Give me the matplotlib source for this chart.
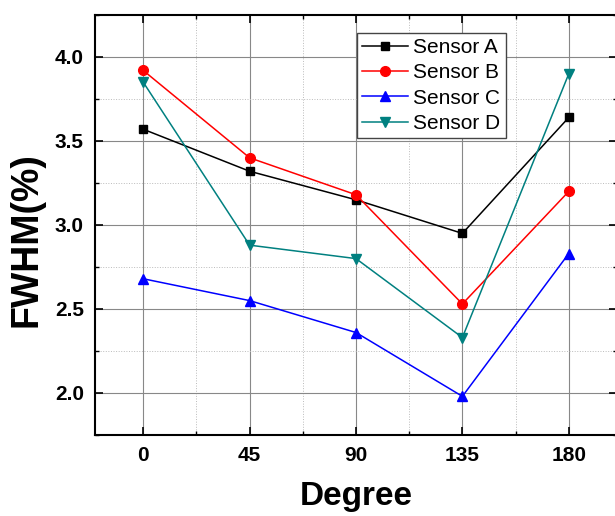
import matplotlib
matplotlib.use("Agg")
import matplotlib.pyplot as plt
from matplotlib.ticker import MultipleLocator

degrees = [0, 45, 90, 135, 180]
sensor_a = [3.57, 3.32, 3.15, 2.95, 3.64]
sensor_b = [3.92, 3.40, 3.18, 2.53, 3.20]
sensor_c = [2.68, 2.55, 2.36, 1.98, 2.83]
sensor_d = [3.85, 2.88, 2.80, 2.33, 3.90]
x_ticks = [0, 45, 90, 135, 180]
y_ticks = [2.0, 2.5, 3.0, 3.5, 4.0]

plt.rcParams['font.family'] = ['Liberation Sans', 'DejaVu Sans']

fig = plt.figure(figsize=(6.15, 5.16), dpi=100)
ax = fig.add_axes([95/615, 1 - 435/516, 522/615, 420/516])

ax.plot(degrees, sensor_a, color='black', marker='s', ms=6, lw=1.1, label='Sensor A', zorder=3)
ax.plot(degrees, sensor_b, color='red', marker='o', ms=7, lw=1.1, label='Sensor B', zorder=3)
ax.plot(degrees, sensor_c, color='blue', marker='^', ms=7, lw=1.1, label='Sensor C', zorder=3)
ax.plot(degrees, sensor_d, color='#008080', marker='v', ms=7, lw=1.1, label='Sensor D', zorder=3)

ax.set_xlim(-20.4, 200.4)
ax.set_ylim(1.75, 4.25)
ax.set_xticks(x_ticks)
ax.set_yticks(y_ticks)
ax.xaxis.set_minor_locator(MultipleLocator(22.5))
ax.yaxis.set_minor_locator(MultipleLocator(0.25))
ax.grid(which='major', color='#888888', lw=0.8, ls='-')
ax.grid(which='minor', color='#bbbbbb', lw=0.7, ls=':')
ax.tick_params(which='both', direction='in', top=True, right=True)
ax.tick_params(which='major', length=6, width=1.2, labelsize=15)
ax.tick_params(which='minor', length=3, width=1.0)
for lab in ax.get_xticklabels() + ax.get_yticklabels():
    lab.set_fontweight('bold')
ax.tick_params(axis='x', pad=8)
ax.tick_params(axis='y', pad=8)
for s in ax.spines.values():
    s.set_linewidth(1.5)

ax.set_xlabel('Degree', fontsize=24, fontweight='bold')
ax.set_ylabel('FWHM(%)', fontsize=27, fontweight='bold')
ax.xaxis.set_label_coords(0.5, -(497 - 435) / 420, transform=ax.transAxes)
ax.xaxis.label.set_va('center')
ax.yaxis.set_label_coords(-(95 - 27) / 522, (435 - 240) / 420, transform=ax.transAxes)
ax.yaxis.label.set_va('center')

leg = ax.legend(loc='upper left', bbox_to_anchor=(262/522, 1 - 18/420), borderaxespad=0,
                fontsize=15, frameon=True, fancybox=False, edgecolor='#444444', framealpha=1,
                handlelength=2.2, borderpad=0.25, labelspacing=0.3, handletextpad=0.25)
leg.get_frame().set_linewidth(1.0)

fig.savefig('out.png', dpi=100)
